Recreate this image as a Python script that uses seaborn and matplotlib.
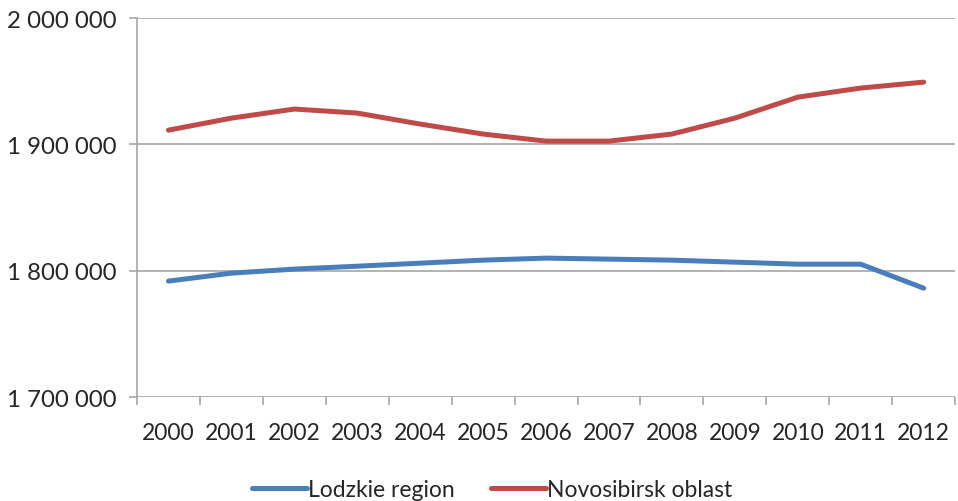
import pandas as pd
import numpy as np
import matplotlib.pyplot as plt
import seaborn as sns

# ---------------------------
# DATA
# ---------------------------
years = ['2000', '2001', '2002', '2003', '2004', '2005', '2006',
         '2007', '2008', '2009', '2010', '2011', '2012']
lodzkie = [1791800, 1798100, 1801300, 1803600, 1806000, 1808400, 1810000,
           1809200, 1808400, 1806800, 1805200, 1805200, 1786200]
novosibirsk = [1911300, 1920800, 1928000, 1924800, 1916100, 1908200, 1902600,
               1902600, 1908200, 1920800, 1937400, 1944600, 1949300]
series_names = ['Lodzkie region', 'Novosibirsk oblast']

df = pd.DataFrame({
    'year': years * 2,
    'pos': list(range(len(years))) * 2,
    'value': lodzkie + novosibirsk,
    'series': [series_names[0]] * len(years) + [series_names[1]] * len(years),
})

# ---------------------------
# STYLE
# ---------------------------
sns.set_style('white')
plt.rcParams['font.family'] = ['Lato', 'DejaVu Sans']
text_color = '#262626'
grid_color = '#a6a6a6'
fs = 16.5

fig = plt.figure(figsize=(9.58, 5.02), dpi=100)
ax = fig.add_axes([0.143, 0.207, 0.854, 0.755])

sns.lineplot(
    data=df, x='pos', y='value', hue='series',
    palette=['#4a7ebb', '#be4b48'], linewidth=3.6,
    solid_capstyle='round', solid_joinstyle='round',
    ax=ax, legend=True
)

# ---------------------------
# AXES
# ---------------------------
ax.set_xlim(-0.5, len(years) - 0.5)
ax.set_ylim(1700000, 2000000)
yticks = [1700000, 1800000, 1900000, 2000000]
ax.set_yticks(yticks)
ax.set_yticklabels([f'{v:,}'.replace(',', ' ') for v in yticks])
ax.set_xticks(range(len(years)))
ax.set_xticklabels(years)
ax.set_xticks(np.arange(-0.5, len(years)), minor=True)

for y in yticks:
    ax.axhline(y, color=grid_color, linewidth=1.2, zorder=0)

for side in ['top', 'right', 'bottom']:
    ax.spines[side].set_visible(False)
ax.spines['left'].set_color(grid_color)
ax.spines['left'].set_linewidth(1.2)

ax.tick_params(axis='x', which='major', length=0, pad=18,
               labelsize=fs, labelcolor=text_color)
ax.tick_params(axis='x', which='minor', length=6, width=1.2,
               color=grid_color, direction='out', bottom=True)
ax.tick_params(axis='y', length=6, width=1.2, color=grid_color,
               direction='out', left=True, pad=9,
               labelsize=fs + 0.8, labelcolor=text_color)
ax.set_xlabel('')
ax.set_ylabel('')

leg = ax.legend(
    loc='lower center', bbox_to_anchor=(0.434, -0.325),
    ncol=2, frameon=False, fontsize=fs,
    handlelength=2.4, handletextpad=0.05, columnspacing=1.6
)
for t in leg.get_texts():
    t.set_color(text_color)

plt.savefig('out.png', dpi=100)
plt.close()
